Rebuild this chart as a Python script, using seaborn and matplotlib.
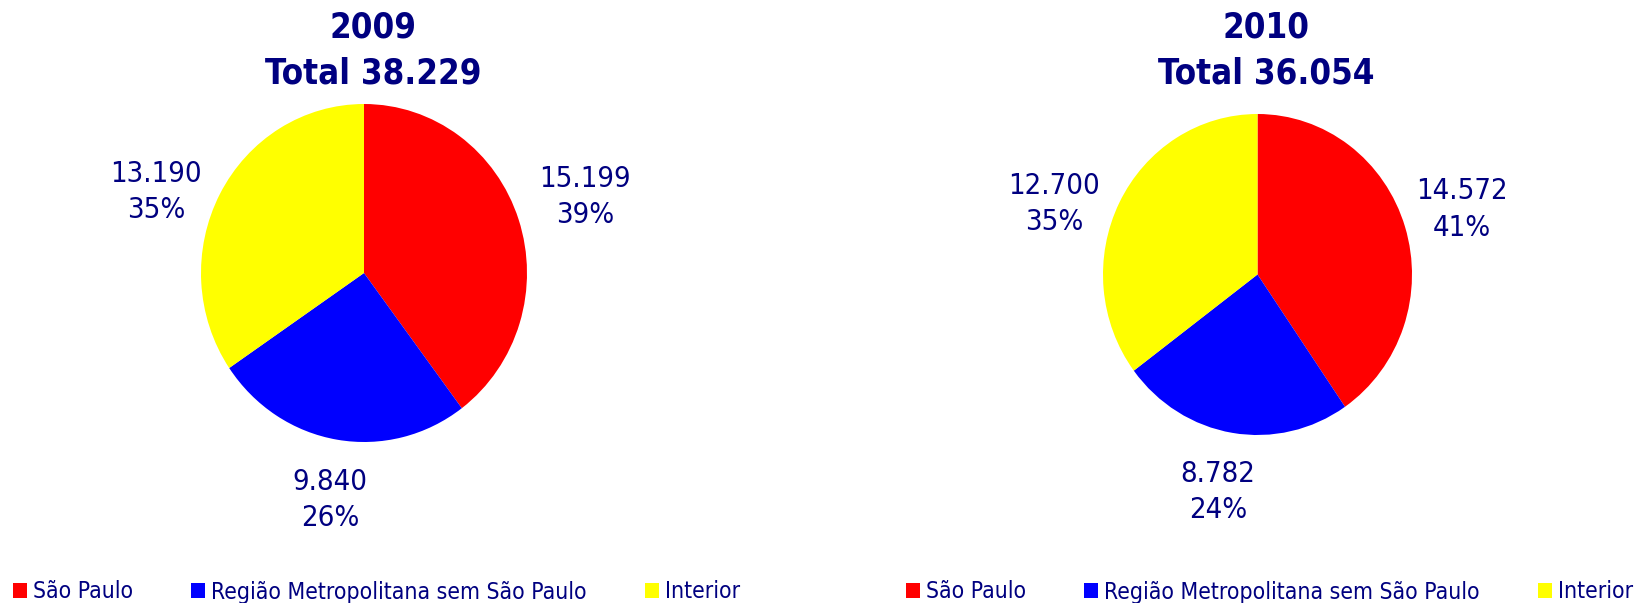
import matplotlib.pyplot as plt
import seaborn as sns
from matplotlib import font_manager
from matplotlib.patches import Patch

# data
years = ["2009", "2010"]
regions = ["São Paulo", "Região Metropolitana sem São Paulo", "Interior"]
values_2009 = [15199, 9840, 13190]
values_2010 = [14572, 8782, 12700]
pct_2009 = [39, 26, 35]
pct_2010 = [41, 24, 35]
totals = [38229, 36054]

colors = ["#FF0000", "#0000FF", "#FFFF00"]
NAVY = "#000080"

W, H = 1637, 603
# pie boxes in pixels: centre x, centre y (from top), radius x, radius y
pie_boxes = [(364, 273, 163, 169), (1257.5, 274.5, 154.5, 160.5)]
title_x = [373, 1266]
legend_x = [13, 906]
# label centres in pie-radius units (red, blue, yellow)
label_pos = [
    [(1.356, 0.45), (-0.209, -1.343), (-1.276, 0.479)],
    [(1.324, 0.405), (-0.256, -1.355), (-1.317, 0.439)],
]


def pick_font(size, bold=False):
    name = "DejaVuSansCondensed-Bold.ttf" if bold else "DejaVuSansCondensed.ttf"
    for path in font_manager.findSystemFonts():
        if path.endswith(name):
            return font_manager.FontProperties(fname=path, size=size)
    return font_manager.FontProperties(family="DejaVu Sans", size=size,
                                       weight="bold" if bold else "normal",
                                       stretch="condensed")


def fmt(v):
    return f"{v:,}".replace(",", ".")


sns.set_style("white")
fig = plt.figure(figsize=(W / 100, H / 100), dpi=100)

title_font = pick_font(25, bold=True)
label_font = pick_font(21)
legend_font = pick_font(16.5)

all_values = [values_2009, values_2010]
all_pcts = [pct_2009, pct_2010]

for i, year in enumerate(years):
    cx, cy, rx, ry = pie_boxes[i]
    ax = fig.add_axes([(cx - rx) / W, 1 - (cy + ry) / H, 2 * rx / W, 2 * ry / H])
    ax.pie(all_values[i], colors=colors, startangle=90, counterclock=False,
           wedgeprops=dict(linewidth=0))
    ax.set_aspect("auto")
    ax.set_xlim(-1, 1)
    ax.set_ylim(-1, 1)
    ax.axis("off")

    for (lx, ly), v, p in zip(label_pos[i], all_values[i], all_pcts[i]):
        ax.text(lx, ly, f"{fmt(v)}\n{p}%", ha="center", va="center",
                color=NAVY, fontproperties=label_font, linespacing=1.4)

    fig.text(title_x[i] / W, 1 - 27 / H, year, ha="center", va="center",
             color=NAVY, fontproperties=title_font)
    fig.text(title_x[i] / W, 1 - 73 / H, f"Total {fmt(totals[i])}", ha="center",
             va="center", color=NAVY, fontproperties=title_font)

    handles = [Patch(facecolor=c, edgecolor="none") for c in colors]
    leg = fig.legend(handles, regions, loc="center left", ncol=3,
                     bbox_to_anchor=(legend_x[i] / W, 1 - 592 / H),
                     frameon=False, prop=legend_font, borderpad=0,
                     borderaxespad=0, handlelength=0.62, handleheight=0.62,
                     handletextpad=0.25, columnspacing=2.53)
    for t in leg.get_texts():
        t.set_color(NAVY)

fig.savefig("out.png", dpi=100)
